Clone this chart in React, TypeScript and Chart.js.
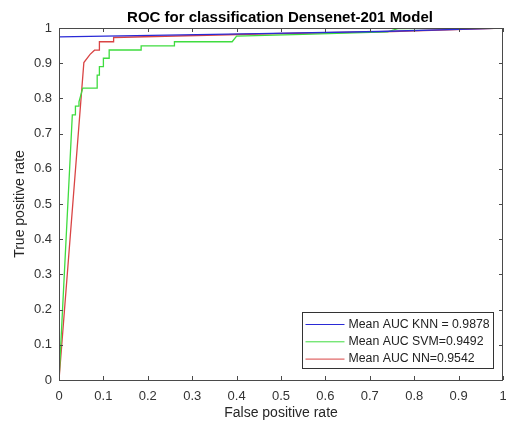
import React, { useEffect, useRef } from 'react';
import { Chart, registerables } from 'chart.js';

Chart.register(...registerables);

// ---- Data ----
const knnFpr = [0, 0, 0.45, 0.72, 0.92, 1];
const knnTpr = [0, 0.975, 0.984, 0.99, 0.997, 1];

const svmFpr = [0, 0.03, 0.037, 0.037, 0.045, 0.045, 0.0535, 0.086, 0.086, 0.091, 0.091, 0.1, 0.1, 0.113, 0.113, 0.185, 0.185, 0.26, 0.26, 0.39, 0.4, 0.55, 0.74, 0.763, 1];
const svmTpr = [0, 0.753, 0.753, 0.778, 0.778, 0.79, 0.829, 0.829, 0.866, 0.866, 0.89, 0.89, 0.914, 0.914, 0.9375, 0.9375, 0.949, 0.949, 0.961, 0.961, 0.977, 0.982, 0.989, 0.998, 1];

const nnFpr = [0, 0.056, 0.07, 0.08, 0.091, 0.091, 0.123, 0.123, 0.45, 0.75, 1];
const nnTpr = [0, 0.902, 0.925, 0.937, 0.937, 0.961, 0.961, 0.973, 0.983, 0.99, 1];

const seriesLabels = ['Mean AUC KNN = 0.9878', 'Mean AUC SVM=0.9492', 'Mean AUC NN=0.9542'];
const axisTicks = [0, 0.1, 0.2, 0.3, 0.4, 0.5, 0.6, 0.7, 0.8, 0.9, 1];

const chartTitle = 'ROC for classification Densenet-201 Model';
const xTitle = 'False positive rate';
const yTitle = 'True positive rate';

const FONT = '"Liberation Sans", Arial, Helvetica, sans-serif';

const toPts = (xs: number[], ys: number[]) => xs.map((x, i) => ({ x, y: ys[i] }));
const fmtTick = (v: any) => String(Math.round(Number(v) * 10) / 10);

const decorPlugin = {
  id: 'decor',
  afterDatasetsDraw(chart: any) {
    const { ctx, chartArea: a, scales } = chart;
    const xs = scales.x;
    const ys = scales.y;
    ctx.save();

    // Legend box
    const lx = a.right - 200.5;
    const ly = a.bottom - 67.5;
    const lw = 191;
    const lh = 56;
    ctx.fillStyle = '#ffffff';
    ctx.fillRect(lx, ly, lw, lh);
    ctx.strokeStyle = '#333333';
    ctx.lineWidth = 1;
    ctx.strokeRect(lx, ly, lw, lh);
    ctx.font = `12.3px ${FONT}`;
    ctx.textBaseline = 'middle';
    ctx.textAlign = 'left';
    chart.data.datasets.forEach((ds: any, i: number) => {
      const yy = ly + 12 + i * 17.3;
      ctx.strokeStyle = ds.borderColor;
      ctx.lineWidth = 1;
      ctx.beginPath();
      ctx.moveTo(lx + 3, yy);
      ctx.lineTo(lx + 42, yy);
      ctx.stroke();
      ctx.fillStyle = '#222222';
      ctx.fillText(ds.label, lx + 46, yy);
    });

    // Axes box
    ctx.strokeStyle = '#4a4a4a';
    ctx.lineWidth = 1;
    ctx.strokeRect(a.left + 0.5, a.top + 0.5, a.right - a.left - 1, a.bottom - a.top);

    // Inward tick marks on all sides
    const tl = 4;
    ctx.beginPath();
    xs.ticks.forEach((t: any) => {
      const p = Math.round(xs.getPixelForValue(t.value)) + 0.5;
      ctx.moveTo(p, a.bottom);
      ctx.lineTo(p, a.bottom - tl);
      ctx.moveTo(p, a.top);
      ctx.lineTo(p, a.top + tl);
    });
    ys.ticks.forEach((t: any) => {
      const p = Math.round(ys.getPixelForValue(t.value)) + 0.5;
      ctx.moveTo(a.left, p);
      ctx.lineTo(a.left + tl, p);
      ctx.moveTo(a.right, p);
      ctx.lineTo(a.right - tl, p);
    });
    ctx.stroke();

    // Titles
    const cx = (a.left + a.right) / 2;
    const cy = (a.top + a.bottom) / 2;
    ctx.fillStyle = '#000000';
    ctx.textAlign = 'center';
    ctx.textBaseline = 'middle';
    ctx.font = `bold 15px ${FONT}`;
    ctx.fillText(chartTitle, cx - 1, 18);

    ctx.fillStyle = '#262626';
    ctx.font = `14px ${FONT}`;
    ctx.fillText(xTitle, cx, 413);

    ctx.save();
    ctx.translate(20, cy);
    ctx.rotate(-Math.PI / 2);
    ctx.fillText(yTitle, 0, 0);
    ctx.restore();

    ctx.restore();
  },
};

export default function App() {
  const canvasRef = useRef<HTMLCanvasElement | null>(null);

  useEffect(() => {
    const canvas = canvasRef.current;
    if (!canvas) return;
    const tickFont = { family: FONT, size: 13 };
    const chart = new Chart(canvas, {
      type: 'scatter',
      data: {
        datasets: [
          { label: seriesLabels[0], data: toPts(knnFpr, knnTpr), borderColor: '#2a2ad6', backgroundColor: '#2a2ad6' },
          { label: seriesLabels[1], data: toPts(svmFpr, svmTpr), borderColor: '#3fdc3f', backgroundColor: '#3fdc3f' },
          { label: seriesLabels[2], data: toPts(nnFpr, nnTpr), borderColor: '#d94444', backgroundColor: '#d94444' },
        ].map((d) => ({ ...d, showLine: true, pointRadius: 0, borderWidth: 1.3, fill: false, tension: 0 })),
      },
      options: {
        responsive: false,
        animation: false,
        devicePixelRatio: 1,
        layout: { padding: { left: 0, right: 3, top: 28, bottom: 0 } },
        plugins: {
          legend: { display: false },
          title: { display: false },
          tooltip: { enabled: false },
        },
        scales: {
          x: {
            type: 'linear',
            min: 0,
            max: 1,
            afterBuildTicks: (s: any) => { s.ticks = axisTicks.map((v) => ({ value: v })); },
            ticks: { padding: 9, font: tickFont, color: '#333333', maxRotation: 0, autoSkip: false, callback: fmtTick },
            grid: { display: false, drawTicks: false },
            border: { display: false },
            afterFit: (s: any) => { s.height = 42; s.paddingLeft = 0; s.paddingRight = 0; },
          },
          y: {
            type: 'linear',
            min: 0,
            max: 1,
            afterBuildTicks: (s: any) => { s.ticks = axisTicks.map((v) => ({ value: v })); },
            ticks: { padding: 7, font: tickFont, color: '#333333', autoSkip: false, callback: fmtTick },
            grid: { display: false, drawTicks: false },
            border: { display: false },
            afterFit: (s: any) => { s.width = 59; s.paddingTop = 0; s.paddingBottom = 0; },
          },
        },
      },
      plugins: [decorPlugin],
    } as any);
    return () => chart.destroy();
  }, []);

  return (
    <div style={{ position: 'absolute', left: 0, top: 0, width: 506, height: 422, background: '#ffffff' }}>
      <canvas ref={canvasRef} width={506} height={422} style={{ width: 506, height: 422 }} />
    </div>
  );
}
